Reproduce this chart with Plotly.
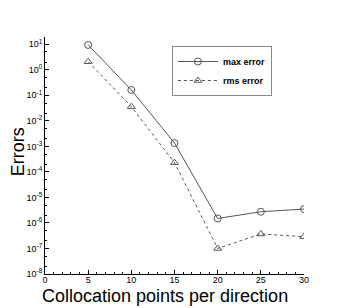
import plotly.graph_objects as go

points = [5, 10, 15, 20, 25, 30]
max_error = [9.4, 0.162, 1.35e-3, 1.5e-6, 2.75e-6, 3.5e-6]
rms_error = [2.08, 0.036, 2.3e-4, 1.0e-7, 3.7e-7, 2.9e-7]
y_exponents = [-8, -7, -6, -5, -4, -3, -2, -1, 0, 1]
y_tick_vals = [10.0 ** e for e in y_exponents]
y_tick_text = ["10<sup>%d</sup>" % e for e in y_exponents]
x_tick_vals = [0, 5, 10, 15, 20, 25, 30]

line_color = "#555555"
font_family = "Liberation Sans, Arial, sans-serif"

fig = go.Figure()
fig.add_trace(go.Scatter(
    x=points, y=max_error, mode="lines+markers", name="<b>max error</b>",
    line=dict(color=line_color, width=1),
    marker=dict(symbol="circle-open", size=7, color=line_color, line=dict(width=1)),
))
fig.add_trace(go.Scatter(
    x=points, y=rms_error, mode="lines+markers", name="<b>rms error</b>",
    line=dict(color=line_color, width=1, dash="dot"),
    marker=dict(symbol="triangle-up-open", size=7, color=line_color, line=dict(width=1)),
))

fig.update_layout(
    width=338, height=300,
    margin=dict(l=37, r=42, t=29, b=34, autoexpand=False),
    paper_bgcolor="white", plot_bgcolor="white",
    font=dict(family=font_family, color="black"),
    showlegend=True,
    legend=dict(
        x=0.49, y=0.962, xanchor="left", yanchor="top",
        bordercolor="#888888", borderwidth=1, bgcolor="white",
        font=dict(size=9, family=font_family, color="black"),
        tracegroupgap=0, itemwidth=40,
    ),
    annotations=[
        dict(text="Collocation points per direction", xref="paper", yref="paper",
             x=0.463, y=-0.092, xanchor="center", yanchor="middle",
             showarrow=False, font=dict(size=18)),
        dict(text="Errors", xref="paper", yref="paper",
             x=-0.103, y=0.515, xanchor="center", yanchor="middle", textangle=-90,
             showarrow=False, font=dict(size=18)),
    ],
)
fig.update_xaxes(
    range=[0, 30], tickvals=x_tick_vals, automargin=False,
    showline=True, linecolor="black", linewidth=1, mirror=False,
    ticks="inside", ticklen=4, tickcolor="black",
    minor=dict(ticks="inside", ticklen=2, dtick=1, tickcolor="black"),
    showgrid=False, zeroline=False,
    tickfont=dict(size=9), ticklabelstandoff=-3,
)
fig.update_yaxes(
    type="log", range=[-8, 1.285], tickvals=y_tick_vals, ticktext=y_tick_text,
    automargin=False,
    showline=True, linecolor="black", linewidth=1, mirror=False,
    ticks="inside", ticklen=4, tickcolor="black",
    minor=dict(ticks="inside", ticklen=2, tickcolor="black"),
    showgrid=False, zeroline=False,
    tickfont=dict(size=9),
)

fig.write_html("out.html")
